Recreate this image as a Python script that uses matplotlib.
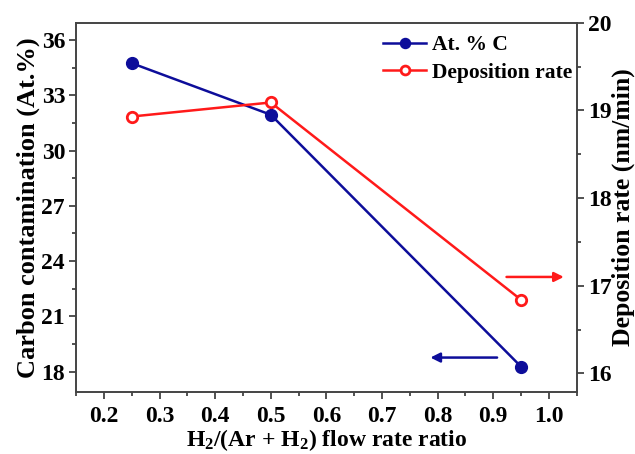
import matplotlib
matplotlib.use("Agg")
import matplotlib.pyplot as plt
from matplotlib.ticker import MultipleLocator

plt.rcParams['font.family'] = ['Liberation Serif', 'DejaVu Serif']
plt.rcParams['font.weight'] = 'bold'
plt.rcParams['mathtext.fontset'] = 'custom'
plt.rcParams['mathtext.bf'] = 'Liberation Serif:bold'
plt.rcParams['mathtext.rm'] = 'Liberation Serif:bold'
plt.rcParams['mathtext.it'] = 'Liberation Serif:bold'

flow_ratio = [0.25, 0.5, 0.95]
carbon_at = [34.75, 31.95, 18.27]
dep_rate = [18.93, 19.09, 16.84]

blue = '#0d0d9a'
red = '#ff1a1a'

fig = plt.figure(figsize=(6.35, 4.54), dpi=100)
ax = fig.add_axes([0.12, 0.137, 0.788, 0.813])
ax2 = ax.twinx()

l1, = ax.plot(flow_ratio, carbon_at, '-o', color=blue, lw=1.8, ms=8.5,
              mfc=blue, mec=blue, label='At. % C', zorder=3)
l2, = ax2.plot(flow_ratio, dep_rate, '-o', color=red, lw=1.8, ms=7.5,
               mfc='white', mec=red, mew=2, label='Deposition rate', zorder=3)

ax.set_xlim(0.15, 1.05)
ax.set_ylim(16.9, 36.95)
ax2.set_ylim(15.79, 20.0)

ax.xaxis.set_major_locator(MultipleLocator(0.1))
ax.xaxis.set_minor_locator(MultipleLocator(0.05))
ax.yaxis.set_major_locator(MultipleLocator(3))
ax.yaxis.set_minor_locator(MultipleLocator(1.5))
ax2.yaxis.set_major_locator(MultipleLocator(1))
ax2.yaxis.set_minor_locator(MultipleLocator(0.5))

ax.xaxis.set_major_formatter(plt.FormatStrFormatter('%.1f'))

for a in (ax, ax2):
    a.tick_params(which='major', direction='out', length=5, width=1.2,
                  labelsize=17, colors='#333333', labelcolor='black', pad=3)
    a.tick_params(which='minor', direction='out', length=3, width=1.2,
                  colors='#333333')
    for s in a.spines.values():
        s.set_color('#444444')
        s.set_linewidth(1.2)
ax.tick_params(axis='x', which='both', top=False)
ax.tick_params(axis='x', which='major', pad=5)

ax.set_xlabel(r'H$_\mathbf{2}$/(Ar + H$_\mathbf{2}$) flow rate ratio',
              fontsize=17, fontweight='bold', labelpad=0)
ax.set_ylabel('Carbon contamination (At.%)', fontsize=19, fontweight='bold',
              labelpad=1)
ax2.set_ylabel('Deposition rate (nm/min)', fontsize=18.5, fontweight='bold',
               labelpad=0)

# direction arrows pointing to each series' axis
ax2.annotate('', xy=(1.032, 17.1), xytext=(0.919, 17.1),
             arrowprops=dict(arrowstyle='-|>', color=red, lw=1.8,
                             mutation_scale=14))
ax.annotate('', xy=(0.782, 18.76), xytext=(0.912, 18.76),
            arrowprops=dict(arrowstyle='-|>', color=blue, lw=1.8,
                            mutation_scale=14))

leg = ax2.legend(handles=[l1, l2], loc='upper right', frameon=False,
                 fontsize=15.5, handlelength=2.0, handletextpad=0.25,
                 borderaxespad=0.1, labelspacing=0.35,
                 bbox_to_anchor=(1.012, 0.995), markerscale=0.85)

fig.savefig('out.png', dpi=100)
